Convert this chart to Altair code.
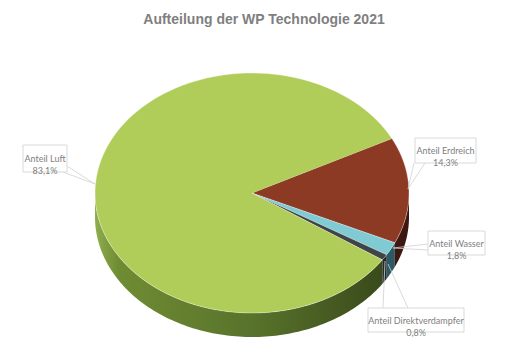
import altair as alt
import pandas as pd

# ---------------- data ----------------
labels = ["Anteil Erdreich", "Anteil Wasser", "Anteil Direktverdampfer", "Anteil Luft"]
shares = [14.3, 1.8, 0.8, 83.1]
share_text = ["14,3%", "1,8%", "0,8%", "83,1%"]
title_text = "Aufteilung der WP Technologie 2021"

# ---------------- styles / layout ----------------
top_colors = ["#8c3a24", "#80cad4", "#3f4447", "#b1cd59"]
side_colors = ["#3d1711", "#2d5964", "#26292b", "#5a742b"]
luft_side_stops = [("#8fae4c", 0.0), ("#6f8c33", 0.08), ("#58732b", 0.55), ("#3a4a1b", 1.0)]

W, H, PAD_TOP = 512, 360, 36
CX, CY, RX, RY, DEPTH = 252, 193, 157, 120, 24
START_DEG = 63
N = 120

xdom = [-CX / RX, (W - CX) / RX]
ydom = [-(H - CY) / RY, (CY - PAD_TOP) / RY]
d = DEPTH / RY

# label callouts in canvas pixels: box (x1, y1, x2, y2), pointer lines
label_layout = {
    "Anteil Luft": dict(box=(23, 145, 67, 172), lines=[((63, 172), (95, 184)), ((67, 166), (95, 184))]),
    "Anteil Erdreich": dict(box=(415, 138, 476, 163), lines=[((414, 163), (408, 189)), ((425, 163), (408, 189))]),
    "Anteil Wasser": dict(box=(428, 231, 485, 255), lines=[((428, 244), (393, 248)), ((428, 250), (393, 248))]),
    "Anteil Direktverdampfer": dict(box=(368, 308, 464, 332), lines=[((383, 308), (385, 261)), ((408, 308), (388, 264))]),
}

df = pd.DataFrame({"label": labels, "share": shares, "order": list(range(len(labels)))})

xs = alt.Scale(domain=xdom, nice=False, zero=False)
ys = alt.Scale(domain=ydom, nice=False, zero=False)
X = alt.X("x:Q", scale=xs, axis=None)
Y = alt.Y("y:Q", scale=ys, axis=None)

base = (
    alt.Chart(df)
    .transform_joinaggregate(total="sum(share)")
    .transform_window(cum="sum(share)", sort=[alt.SortField("order", order="ascending")], frame=[None, 0])
    .transform_calculate(
        start=f"({START_DEG} + (datum.cum - datum.share) * 360 / datum.total) * PI / 180",
        end=f"({START_DEG} + datum.cum * 360 / datum.total) * PI / 180",
    )
)

# top face of the pie (elliptical sectors)
top = (
    base.transform_calculate(idx=f"sequence(-1, {N + 1})")
    .transform_flatten(["idx"])
    .transform_calculate(
        a=f"datum.start + datum.idx * (datum.end - datum.start) / {N}",
    )
    .transform_calculate(
        x="datum.idx < 0 ? 0 : sin(datum.a)",
        y="datum.idx < 0 ? 0 : cos(datum.a)",
    )
    .mark_line(filled=True, stroke="#ffffff", strokeWidth=0.6, strokeOpacity=0.6)
    .encode(
        X, Y,
        order="idx:Q",
        color=alt.Color("label:N", scale=alt.Scale(domain=labels, range=top_colors), legend=None),
    )
)

# side (depth) of the pie, front half only
side = (
    base.transform_calculate(lo="max(datum.start, PI / 2)", hi="min(datum.end, 3 * PI / 2)")
    .transform_filter("datum.hi > datum.lo")
    .transform_calculate(idx=f"sequence(0, {2 * N + 2})")
    .transform_flatten(["idx"])
    .transform_calculate(
        a=f"datum.idx <= {N} ? datum.lo + datum.idx * (datum.hi - datum.lo) / {N} : datum.hi - (datum.idx - {N + 1}) * (datum.hi - datum.lo) / {N}"
    )
    .transform_calculate(
        x="sin(datum.a)",
        y=f"cos(datum.a) - (datum.idx <= {N} ? 0 : {d})",
    )
)

side_other = (
    side.transform_filter(f"datum.label != '{labels[3]}'")
    .mark_line(filled=True)
    .encode(
        X, Y,
        order="idx:Q",
        color=alt.Color("label:N", scale=alt.Scale(domain=labels, range=side_colors), legend=None),
    )
)

grad = alt.LinearGradient(
    gradient="linear",
    stops=[alt.GradientStop(color=c, offset=o) for c, o in luft_side_stops],
    x1=0, x2=1, y1=0, y2=0,
)
side_luft = (
    side.transform_filter(f"datum.label == '{labels[3]}'")
    .mark_line(filled=True, fill=grad)
    .encode(X, Y, order="idx:Q", detail="label:N")
)

# callout labels
label_layers = []
for lab, txt in zip(labels, share_text):
    lay = label_layout[lab]
    x1, y1, x2, y2 = lay["box"]
    one = alt.Chart(pd.DataFrame({"label": [lab], "share_text": [txt]}))
    for (px1, py1), (px2, py2) in lay["lines"]:
        label_layers.append(
            one.mark_rule(color="#d0d0d0", strokeWidth=0.8).encode(
                x=alt.value(px1), y=alt.value(py1 - PAD_TOP),
                x2=alt.value(px2), y2=alt.value(py2 - PAD_TOP),
            )
        )
    label_layers.append(
        one.mark_rect(fill="#ffffff", stroke="#d9d9d9", strokeWidth=1).encode(
            x=alt.value(x1), x2=alt.value(x2),
            y=alt.value(y1 - PAD_TOP), y2=alt.value(y2 - PAD_TOP),
        )
    )
    label_layers.append(
        one.transform_calculate(t="[datum.label, datum.share_text]")
        .mark_text(font="Lato", fontSize=9, color="#808080", align="center", baseline="middle", lineHeight=12)
        .encode(
            x=alt.value((x1 + x2) / 2), y=alt.value((y1 + y2) / 2 - PAD_TOP + 0.5),
            text="t:N",
        )
    )

chart = (
    alt.layer(side_luft, side_other, top, *label_layers)
    .resolve_scale(color="independent")
    .properties(
        width=W,
        height=H - PAD_TOP,
        padding={"top": PAD_TOP, "left": 0, "right": 0, "bottom": 0},
        autosize=alt.AutoSizeParams(type="none"),
        background="#ffffff",
        title=alt.TitleParams(
            title_text, font="Liberation Sans", fontSize=14, fontWeight="bold",
            color="#7f7f7f", anchor="middle", offset=9, dx=8,
        ),
    )
    .configure_view(stroke=None)
)

chart.save("out.html", embed_options={"renderer": "svg", "actions": False})
